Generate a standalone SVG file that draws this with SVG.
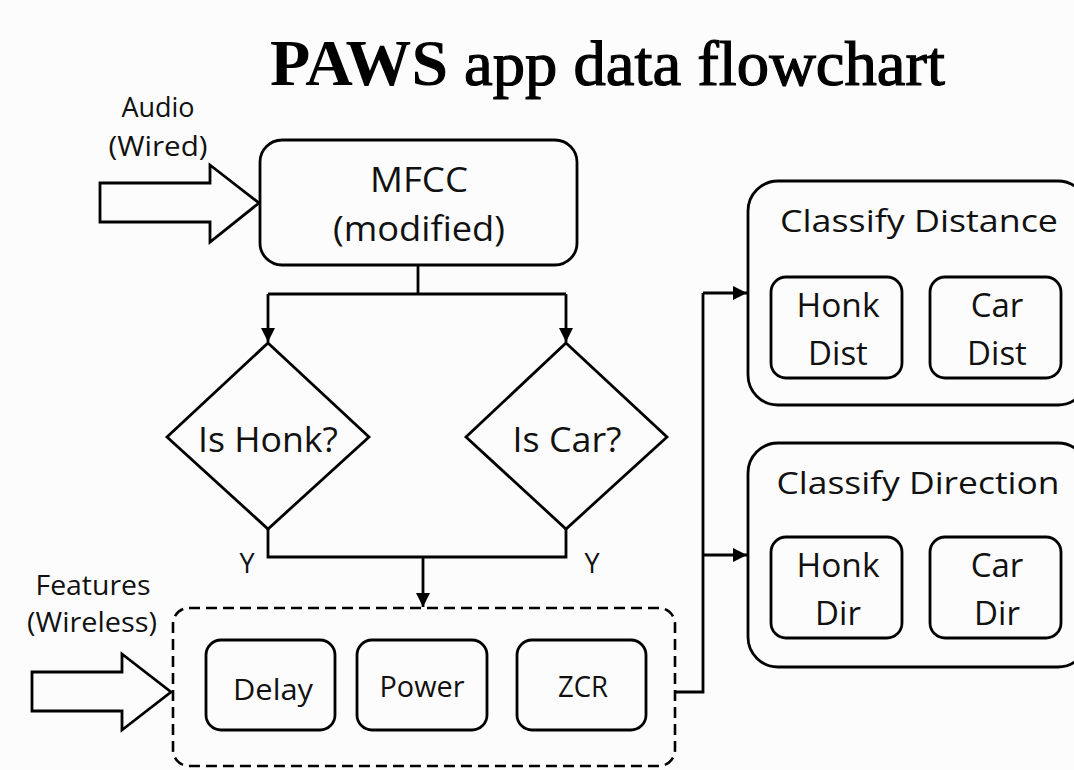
<svg xmlns="http://www.w3.org/2000/svg" width="1074" height="770" viewBox="0 0 1074 770">
<defs>
<style>
.t{font-family:"Open Sans","Liberation Sans",sans-serif;fill:#111;text-anchor:middle}
.box{fill:none;stroke:#000;stroke-width:2.8}
.ln{fill:none;stroke:#000;stroke-width:2.8}
.dash{fill:none;stroke:#000;stroke-width:2.6;stroke-dasharray:11 6}
.ttl{font-family:"Liberation Serif","Times New Roman",serif;fill:#000}
</style>
<marker id="ah" viewBox="0 0 10 10" refX="10" refY="5" markerWidth="5.2" markerHeight="5" orient="auto" markerUnits="strokeWidth">
<path d="M0,0 L10,5 L0,10 z" fill="#000"/>
</marker>
</defs>
<rect width="1074" height="770" fill="#fcfcfc"/>
<g id="title">
<text class="ttl" x="270" y="85" font-size="66" font-weight="700" textLength="178" lengthAdjust="spacingAndGlyphs">PAWS</text>
<text class="ttl" x="464" y="85" font-size="64" stroke="#000" stroke-width="1.2" textLength="481" lengthAdjust="spacingAndGlyphs">app data flowchart</text>
</g>
<g id="audio-input">
<text class="t" x="158" y="117" font-size="27">Audio</text>
<text class="t" x="158" y="156" font-size="27" textLength="99" lengthAdjust="spacingAndGlyphs">(Wired)</text>
<path class="box" d="M100,183 L210,183 L210,165 L259,203 L210,242 L210,222 L100,222 Z"/>
</g>
<g id="mfcc">
<rect class="box" x="260" y="140" width="317" height="125" rx="22"/>
<text class="t" x="419" y="192" font-size="34" textLength="98" lengthAdjust="spacingAndGlyphs">MFCC</text>
<text class="t" x="419" y="241" font-size="34" textLength="172" lengthAdjust="spacingAndGlyphs">(modified)</text>
</g>
<g id="is-honk">
<polygon class="box" points="268,343 369,437 268,529 167,437"/>
<text class="t" x="268" y="452" font-size="34" textLength="140" lengthAdjust="spacingAndGlyphs">Is Honk?</text>
</g>
<g id="is-car">
<polygon class="box" points="566,343 667,437 566,529 466,437"/>
<text class="t" x="567" y="452" font-size="34" textLength="109" lengthAdjust="spacingAndGlyphs">Is Car?</text>
</g>
<g id="features-input">
<text class="t" x="93" y="595" font-size="27" textLength="115" lengthAdjust="spacingAndGlyphs">Features</text>
<text class="t" x="92" y="632" font-size="27" textLength="130" lengthAdjust="spacingAndGlyphs">(Wireless)</text>
<path class="box" d="M32,672 L122,672 L122,654 L171,692 L122,730 L122,711 L32,711 Z"/>
</g>
<g id="features">
<rect class="dash" x="173" y="608" width="502" height="158" rx="16"/>
<g id="delay">
<rect class="box" x="206" y="640" width="129" height="90" rx="15"/>
<text class="t" x="273" y="700" font-size="30" textLength="80" lengthAdjust="spacingAndGlyphs">Delay</text>
</g>
<g id="power">
<rect class="box" x="357" y="640" width="130" height="90" rx="15"/>
<text class="t" x="422" y="697" font-size="29" textLength="85" lengthAdjust="spacingAndGlyphs">Power</text>
</g>
<g id="zcr">
<rect class="box" x="517" y="640" width="129" height="90" rx="15"/>
<text class="t" x="583" y="697" font-size="29" textLength="50" lengthAdjust="spacingAndGlyphs">ZCR</text>
</g>
</g>
<g id="classify-distance">
<rect class="box" x="748" y="181" width="340" height="224" rx="30"/>
<text class="t" x="919" y="232" font-size="31" textLength="278" lengthAdjust="spacingAndGlyphs">Classify Distance</text>
<g id="honk-dist">
<rect class="box" x="771" y="277" width="131" height="101" rx="15"/>
<text class="t" x="838" y="317" font-size="33" textLength="83" lengthAdjust="spacingAndGlyphs">Honk</text>
<text class="t" x="838" y="365" font-size="33">Dist</text>
</g>
<g id="car-dist">
<rect class="box" x="930" y="277" width="131" height="101" rx="15"/>
<text class="t" x="997" y="317" font-size="33">Car</text>
<text class="t" x="997" y="365" font-size="33">Dist</text>
</g>
</g>
<g id="classify-direction">
<rect class="box" x="748" y="443" width="340" height="224" rx="30"/>
<text class="t" x="918" y="494" font-size="31" textLength="283" lengthAdjust="spacingAndGlyphs">Classify Direction</text>
<g id="honk-dir">
<rect class="box" x="771" y="537" width="131" height="101" rx="15"/>
<text class="t" x="838" y="577" font-size="33" textLength="83" lengthAdjust="spacingAndGlyphs">Honk</text>
<text class="t" x="838" y="625" font-size="33">Dir</text>
</g>
<g id="car-dir">
<rect class="box" x="930" y="537" width="131" height="101" rx="15"/>
<text class="t" x="997" y="577" font-size="33">Car</text>
<text class="t" x="997" y="625" font-size="33">Dir</text>
</g>
</g>
<g id="connectors">
<path class="ln" d="M418,265 L418,294"/>
<path class="ln" d="M268,294 L566,294"/>
<path class="ln" d="M268,294 L268,342" marker-end="url(#ah)"/>
<path class="ln" d="M566,294 L566,342" marker-end="url(#ah)"/>
<path class="ln" d="M268,529 L268,557 L566,557 L566,529"/>
<path class="ln" d="M423,557 L423,607" marker-end="url(#ah)"/>
<path class="ln" d="M675,692 L703,692 L703,293"/>
<path class="ln" d="M703,293 L747,293" marker-end="url(#ah)"/>
<path class="ln" d="M703,555 L747,555" marker-end="url(#ah)"/>
<text class="t" x="247" y="573" font-size="27">Y</text>
<text class="t" x="592" y="573" font-size="27">Y</text>
</g>
</svg>
